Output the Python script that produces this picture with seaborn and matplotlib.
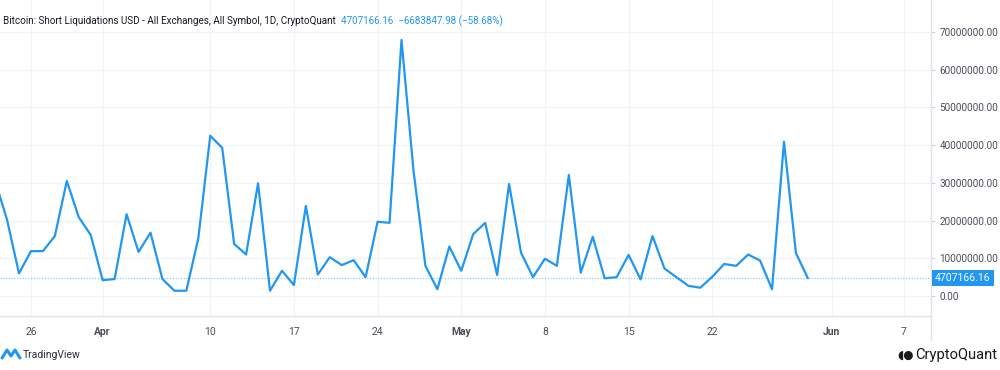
import pandas as pd
import numpy as np
import matplotlib
matplotlib.use("Agg")
import matplotlib.pyplot as plt
import matplotlib.dates as mdates
import matplotlib.transforms as mtransforms
from matplotlib.lines import Line2D
import seaborn as sns

# Daily short liquidations (USD, millions), 2023-03-23 .. 2023-05-30
start_date = "2023-03-23"
liq_musd = [
    30.6, 20.2, 6.0, 11.9, 11.9, 15.9, 30.5, 20.9, 16.2,
    4.2, 4.5, 21.7, 11.7, 16.8, 4.5, 1.4, 1.4, 15.3, 42.5,
    39.3, 13.8, 11.0, 29.9, 1.4, 6.7, 2.9, 23.9, 5.7, 10.3,
    8.2, 9.5, 5.0, 19.7, 19.4, 67.9, 33.4, 8.0, 1.8, 13.1,
    6.7, 16.4, 19.4, 5.6, 29.7, 11.5, 5.0, 9.9, 8.0, 32.1,
    6.2, 15.7, 4.7, 5.0, 10.9, 4.4, 15.9, 7.3, 5.0, 2.7,
    2.2, 5.1, 8.5, 8.0, 11.0, 9.4, 1.8, 40.9, 11.391014, 4.70716616,
]
last_value = 4707166.16
change = -6683847.98
change_pct = -58.68

tick_dates = ["2023-03-26", "2023-04-01", "2023-04-10", "2023-04-17", "2023-04-24",
              "2023-05-01", "2023-05-08", "2023-05-15", "2023-05-22", "2023-06-01",
              "2023-06-07"]
tick_labels = ["26", "Apr", "10", "17", "24", "May", "8", "15", "22", "Jun", "7"]
month_labels = {"Apr", "May", "Jun"}
y_ticks = [0, 10e6, 20e6, 30e6, 40e6, 50e6, 60e6, 70e6]

df = pd.DataFrame({
    "date": pd.date_range(start_date, periods=len(liq_musd), freq="D"),
    "value": np.array(liq_musd) * 1e6,
})

blue = "#2196f3"
grid_c = "#f0f3fa"
text_c = "#4a4e5a"
font = ["Roboto", "DejaVu Sans"]

sns.set_style("white")
plt.rcParams["font.family"] = font

fig = plt.figure(figsize=(10, 3.7), dpi=100)
ax = fig.add_axes([0, 54 / 370, 931 / 1000, 316 / 370])

sns.lineplot(data=df, x="date", y="value", ax=ax, color=blue, linewidth=1.6)
ax.axhline(last_value, color=blue, linestyle=(0, (1, 1.5)), linewidth=0.8, alpha=0.6)

ax.set_xlim(pd.Timestamp("2023-03-26") - pd.Timedelta(days=2.59),
            pd.Timestamp("2023-03-26") + pd.Timedelta(days=75.3))
ax.set_ylim(-5.3e6, 78.5e6)

ax.set_xticks([mdates.date2num(pd.Timestamp(d)) for d in tick_dates])
ax.set_xticklabels(tick_labels)
for lbl in ax.get_xticklabels():
    if lbl.get_text() in month_labels:
        lbl.set_fontweight("bold")
ax.tick_params(axis="x", length=0, pad=8, labelsize=7.5, labelcolor=text_c)

ax.yaxis.tick_right()
ax.set_yticks(y_ticks)
ax.set_yticklabels([f"{v:.2f}" for v in y_ticks])
ax.tick_params(axis="y", length=3, color="#d1d4dc", pad=3, labelsize=7.2, labelcolor=text_c)

ax.grid(True, color=grid_c, linewidth=0.9)
ax.set_xlabel("")
ax.set_ylabel("")
for s in ["top", "left"]:
    ax.spines[s].set_visible(False)
for s in ["right", "bottom"]:
    ax.spines[s].set_color("#e0e3eb")
    ax.spines[s].set_linewidth(1)

# last value label on price axis
trans = mtransforms.blended_transform_factory(ax.transAxes, ax.transData)
ax.text(1.004, last_value, f"{last_value:.2f}", transform=trans, color="white",
        fontsize=7.6, va="center", ha="left",
        bbox=dict(boxstyle="square,pad=0.3", fc=blue, ec="none"))

# extend price-axis separator below the time axis
fig.add_artist(Line2D([0.931, 0.931], [1 - 340 / 370, 54 / 370], color="#e0e3eb", lw=1))

# legend line
fig.text(0.003, 1 - 21 / 370,
         "Bitcoin: Short Liquidations USD - All Exchanges, All Symbol, 1D, CryptoQuant",
         color="#131722", fontsize=7.15, va="center", ha="left")
fig.text(0.341, 1 - 21 / 370,
         f"{last_value:.2f}  \u2212{abs(change):.2f} (\u2212{abs(change_pct):.2f}%)",
         color=blue, fontsize=7.15, va="center", ha="left")

# footer branding
fig.text(0.023, 1 - 355 / 370, "TradingView", color="#2a2e39", fontsize=7.5, va="center")
fig.add_artist(Line2D([0.002, 0.007, 0.011, 0.015, 0.020],
                      [1 - 358 / 370, 1 - 350 / 370, 1 - 356 / 370, 1 - 350 / 370, 1 - 358 / 370],
                      color=blue, lw=2.2, solid_capstyle="round"))
fig.text(0.997, 1 - 355 / 370, "CryptoQuant", color="#1a1a1a", fontsize=10.6,
         va="center", ha="right")
fig.text(0.897, 1 - 355 / 370, "\u25d6\u25cf", color="#1a1a1a", fontsize=8.5, va="center")

fig.savefig("out.png", dpi=100, facecolor="white")
